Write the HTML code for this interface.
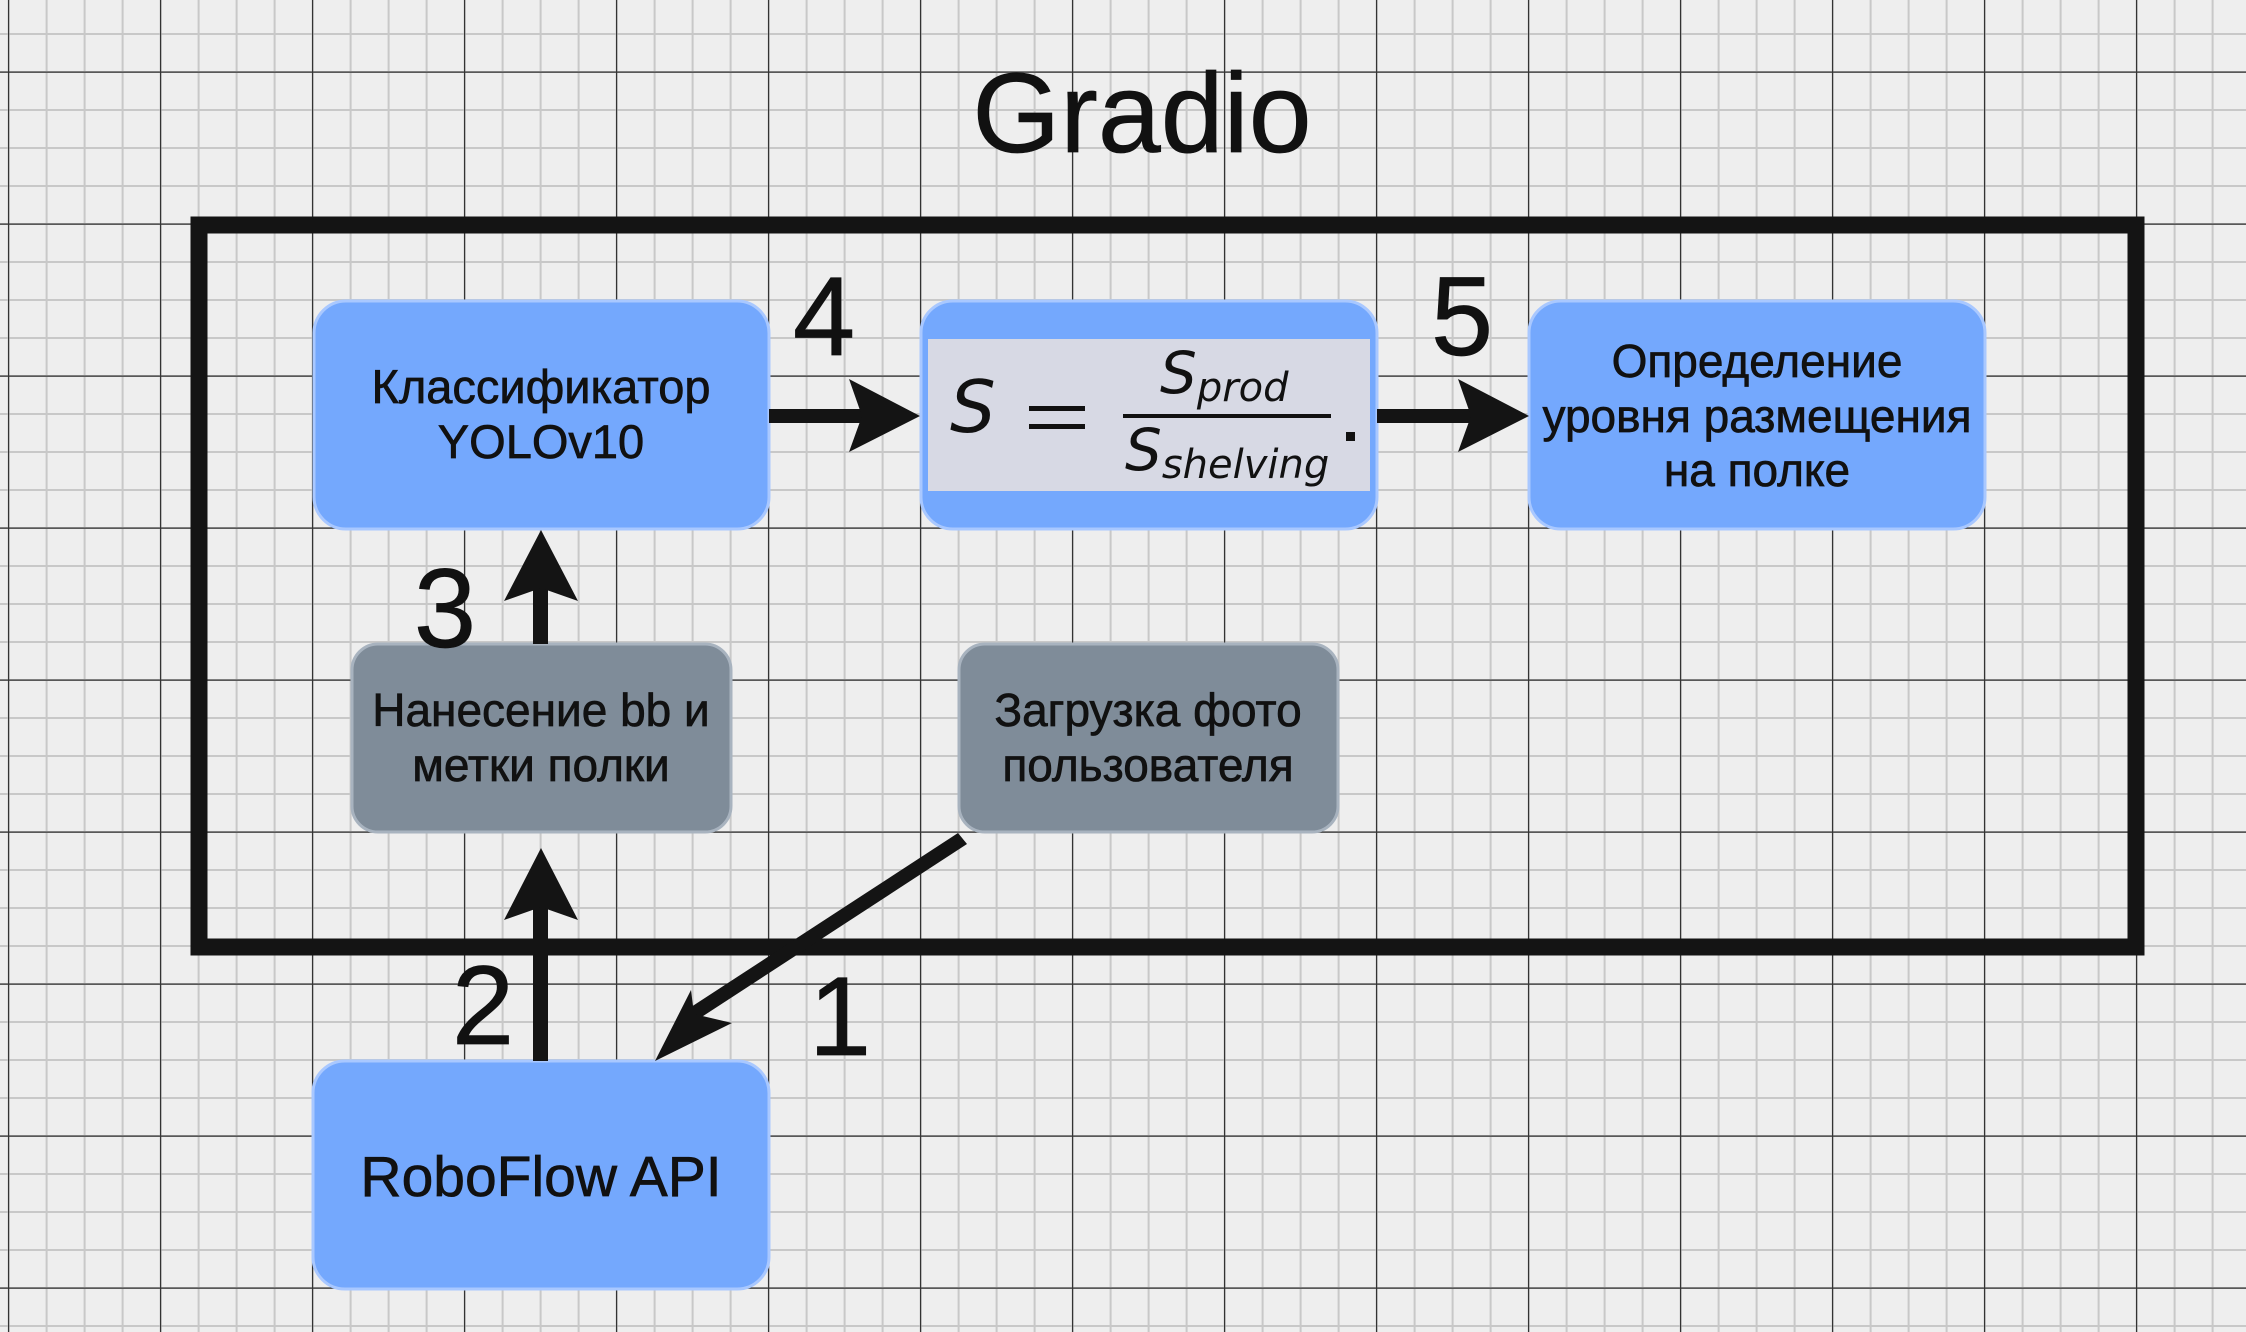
<!DOCTYPE html>
<html><head><meta charset="utf-8"><style>
html,body{margin:0;padding:0;background:#eeeeee;}
svg{display:block;}
text{font-family:"Liberation Sans",sans-serif;fill:#111;}
.b{stroke:#111;stroke-width:0.7;}
</style></head><body>
<svg width="2246" height="1332" viewBox="0 0 2246 1332" xmlns="http://www.w3.org/2000/svg">
<defs>
<pattern id="minor" width="38" height="38" patternUnits="userSpaceOnUse" x="7.6" y="-5">
<path d="M0 1H38M1 0V38" stroke="#c8c8c8" stroke-width="2" fill="none"/>
</pattern>
<pattern id="major" width="152" height="152" patternUnits="userSpaceOnUse" x="8" y="71.5">
<path d="M0 0.6H152M0.6 0V152" stroke="#333" stroke-width="1.2" fill="none"/>
</pattern>
</defs>
<rect width="2246" height="1332" fill="#eeeeee"/>
<rect width="2246" height="1332" fill="url(#minor)"/>
<rect width="2246" height="1332" fill="url(#major)"/>

<text x="1142" y="152" font-size="113" text-anchor="middle" class="b">Gradio</text>

<rect x="199" y="225" width="1937" height="722" fill="none" stroke="#141414" stroke-width="17"/>

<rect x="314" y="301" width="455" height="228" rx="32" fill="#74a8fd" stroke="#a9c8ff" stroke-width="3"/>
<text x="541" y="403" font-size="47" text-anchor="middle" class="b">Классификатор</text>
<text x="541" y="458" font-size="47" text-anchor="middle" class="b">YOLOv10</text>

<rect x="921" y="301" width="456" height="228" rx="32" fill="#74a8fd" stroke="#a9c8ff" stroke-width="3"/>
<rect x="928" y="339" width="442" height="152" fill="#d7d9e4"/>
<text x="950" y="432" font-size="72" font-style="italic" style="font-family:'DejaVu Sans',sans-serif">S</text>
<rect x="1029" y="406" width="56" height="5" fill="#111"/>
<rect x="1029" y="424" width="56" height="5" fill="#111"/>
<rect x="1123" y="414" width="208" height="4" fill="#111"/>
<text x="1160" y="393" font-size="58" font-style="italic" style="font-family:'DejaVu Sans',sans-serif">S<tspan font-size="40" dy="8">prod</tspan></text>
<text x="1125" y="470" font-size="58" font-style="italic" style="font-family:'DejaVu Sans',sans-serif">S<tspan font-size="40" dy="8">shelving</tspan></text>
<rect x="1346" y="432" width="9" height="9" fill="#111"/>

<rect x="1529" y="301" width="456" height="228" rx="32" fill="#74a8fd" stroke="#a9c8ff" stroke-width="3"/>
<text x="1757" y="377" font-size="46" text-anchor="middle" class="b">Определение</text>
<text x="1757" y="432" font-size="46" text-anchor="middle" class="b">уровня размещения</text>
<text x="1757" y="486" font-size="46" text-anchor="middle" class="b">на полке</text>

<rect x="352" y="644" width="379" height="188" rx="26" fill="#7f8c99" stroke="#a8b3bf" stroke-width="3"/>
<text x="541" y="726" font-size="46" text-anchor="middle" class="b">Нанесение bb и</text>
<text x="541" y="781" font-size="46" text-anchor="middle" class="b">метки полки</text>

<rect x="959" y="644" width="379" height="188" rx="26" fill="#7f8c99" stroke="#a8b3bf" stroke-width="3"/>
<text x="1148" y="726" font-size="46" text-anchor="middle" class="b">Загрузка фото</text>
<text x="1148" y="781" font-size="46" text-anchor="middle" class="b">пользователя</text>

<rect x="313" y="1061" width="456" height="228" rx="32" fill="#74a8fd" stroke="#a9c8ff" stroke-width="3"/>
<text x="541" y="1196" font-size="57" text-anchor="middle" class="b">RoboFlow API</text>

<g fill="#141414" stroke="none">
<rect x="769" y="409" width="100" height="14"/>
<path d="M920 416 L849 379 L862 416 L849 452 Z"/>
<rect x="1377" y="409" width="100" height="14"/>
<path d="M1529 416 L1458 379 L1471 416 L1458 452 Z"/>
<rect x="533" y="580" width="15" height="64"/>
<path d="M541 530 L504 601 L541 588 L578 601 Z"/>
<rect x="533" y="900" width="15" height="161"/>
<path d="M541 848 L504 920 L541 907 L578 920 Z"/>
<path d="M958 833 L967 844 L697 1020 L688 1009 Z"/>
<path d="M655 1061 L691 990 L694 1014 L732 1023 Z"/>
</g>

<g font-size="112" class="b">
<text x="824" y="355" text-anchor="middle">4</text>
<text x="1462" y="355" text-anchor="middle">5</text>
<text x="445" y="647" text-anchor="middle">3</text>
<text x="483" y="1044" text-anchor="middle">2</text>
<text x="840" y="1055" text-anchor="middle">1</text>
</g>
</svg>
</body></html>
